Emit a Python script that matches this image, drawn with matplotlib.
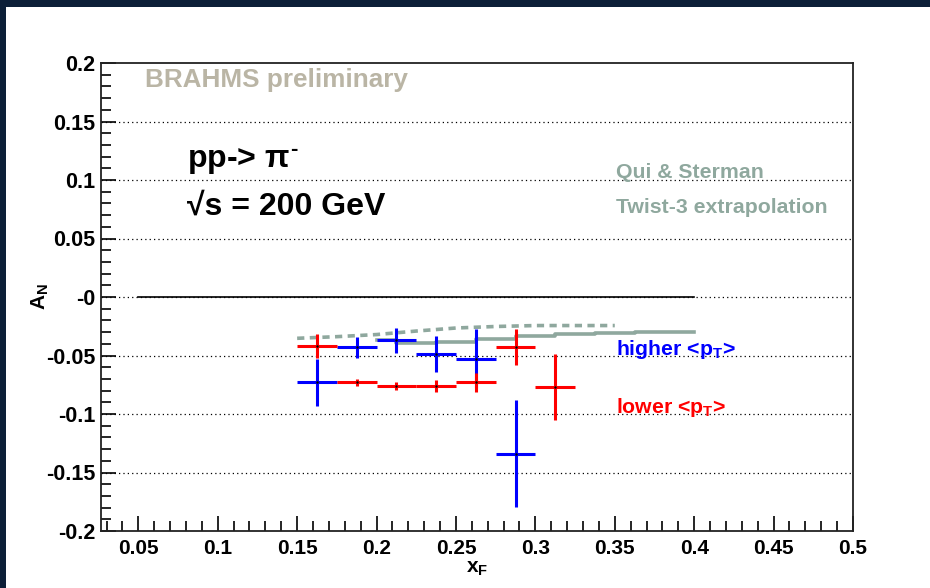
import numpy as np
import matplotlib
matplotlib.use('Agg')
import matplotlib.pyplot as plt
from matplotlib.ticker import MultipleLocator, FixedLocator, FixedFormatter
from matplotlib.patches import Rectangle

plt.rcParams['font.family'] = ['Liberation Sans', 'DejaVu Sans']
plt.rcParams['font.weight'] = 'bold'
plt.rcParams['axes.unicode_minus'] = False
plt.rcParams['mathtext.fontset'] = 'custom'
plt.rcParams['mathtext.rm'] = 'Liberation Sans:bold'
plt.rcParams['mathtext.it'] = 'Liberation Sans:bold'
plt.rcParams['mathtext.bf'] = 'Liberation Sans:bold'

# data
bin_half = 0.0125

red_x = [0.1625, 0.1875, 0.2125, 0.2375, 0.2625, 0.2875, 0.3125]
red_an = [-0.042, -0.073, -0.076, -0.076, -0.073, -0.043, -0.077]
red_err = [0.010, 0.003, 0.0033, 0.005, 0.008, 0.0154, 0.028]

blue_x = [0.1625, 0.1875, 0.2125, 0.2375, 0.2625, 0.2875]
blue_an = [-0.073, -0.043, -0.037, -0.0487, -0.0527, -0.134]
blue_err = [0.020, 0.0088, 0.0108, 0.0154, 0.025, 0.0456]

# Qui & Sterman twist-3 curves
dash_x = [0.15, 0.175, 0.2, 0.225, 0.25, 0.275, 0.3, 0.325, 0.35]
dash_an = [-0.0353, -0.0339, -0.0321, -0.0291, -0.0265, -0.0252, -0.0244, -0.0244, -0.0244]
solid_x = [0.2, 0.225, 0.25, 0.275, 0.3, 0.325, 0.35, 0.375, 0.4]
solid_an = [-0.0368, -0.0389, -0.0385, -0.0359, -0.0333, -0.0316, -0.0305, -0.0302, -0.0300]

yticks = [0.2, 0.15, 0.1, 0.05, 0.0, -0.05, -0.1, -0.15, -0.2]
ytick_labels = ['0.2', '0.15', '0.1', '0.05', '-0', '-0.05', '-0.1', '-0.15', '-0.2']
xticks = [0.05, 0.1, 0.15, 0.2, 0.25, 0.3, 0.35, 0.4, 0.45, 0.5]
xtick_labels = ['0.05', '0.1', '0.15', '0.2', '0.25', '0.3', '0.35', '0.4', '0.45', '0.5']

theory_col = '#8fa89e'

fig = plt.figure(figsize=(9.30, 5.88), dpi=100)
fig.patch.set_facecolor('#0c1f38')
fig.patches.append(Rectangle((6/930, 0), 1, 1 - 7/588, transform=fig.transFigure,
                             facecolor='white', edgecolor='none', zorder=-10))

ax = fig.add_axes([101/930, 1 - 531/588, 752/930, 468/588])
ax.set_zorder(1)
ax.set_xlim(0.0265, 0.5)
ax.set_ylim(-0.2, 0.2)

# dotted horizontal grid at the major y ticks
for yv in yticks[1:-1]:
    ax.axhline(yv, color='black', linestyle=(0, (1, 2.5)), linewidth=0.9, zorder=1)
ax.plot([0.05, 0.4], [0, 0], color='black', linewidth=1.2, zorder=2)

# theory
ax.plot(dash_x, dash_an, color=theory_col, linestyle=(0, (2, 1.5)), linewidth=2.6, zorder=3)
ax.plot(solid_x, solid_an, color=theory_col, linewidth=2.6, drawstyle='steps-mid', zorder=3)

# data
ax.errorbar(blue_x, blue_an, xerr=bin_half, yerr=blue_err, fmt='none',
            ecolor='#0000ff', elinewidth=2.2, capsize=0, zorder=4)
ax.errorbar(red_x, red_an, xerr=bin_half, yerr=red_err, fmt='none',
            ecolor='#ff0000', elinewidth=2.2, capsize=0, zorder=5)
ax.plot(blue_x + red_x, blue_an + red_an, linestyle='none', marker='.', markersize=1.5,
        color='black', zorder=6)

# axes ticks, ROOT style
ax.yaxis.set_major_locator(FixedLocator(yticks))
ax.yaxis.set_major_formatter(FixedFormatter(ytick_labels))
ax.yaxis.set_minor_locator(MultipleLocator(0.01))
ax.xaxis.set_major_locator(FixedLocator(xticks))
ax.xaxis.set_major_formatter(FixedFormatter(xtick_labels))
ax.xaxis.set_minor_locator(MultipleLocator(0.01))
ax.tick_params(which='both', direction='in', top=False, right=False, width=1.2)
ax.tick_params(which='major', length=11)
ax.tick_params(which='minor', length=7)
ax.tick_params(axis='y', labelsize=15.5, pad=4)
ax.tick_params(axis='x', labelsize=15, pad=6)
for lab in ax.get_xticklabels() + ax.get_yticklabels():
    lab.set_fontweight('bold')
for sp in ax.spines.values():
    sp.set_linewidth(1.3)
    sp.set_color('#222222')

ax.set_xlabel(r'x$_\mathrm{F}$', fontsize=15, fontweight='bold')
ax.xaxis.set_label_coords(0.5, -0.06)
ax.set_ylabel(r'A$_\mathrm{N}$', fontsize=15, fontweight='bold')
ax.yaxis.set_label_coords(-0.066, 0.5)

# annotations
ax.text(0.0545, 0.1795, 'BRAHMS preliminary', color='#bab5a5', fontsize=18.8,
        fontweight='bold', va='baseline', ha='left')
ax.text(0.0805, 0.111, r'pp-> $\pi^{\text{-}}$', color='black', fontsize=23,
        fontweight='bold', va='baseline', ha='left')
ax.text(0.0805, 0.0701, '\u221as = 200 GeV', color='black', fontsize=23,
        fontweight='bold', va='baseline', ha='left')
ax.text(0.3507, 0.1017, 'Qui & Sterman', color=theory_col, fontsize=15.3,
        fontweight='bold', va='baseline', ha='left')
ax.text(0.3507, 0.0715, 'Twist-3 extrapolation', color=theory_col, fontsize=15.3,
        fontweight='bold', va='baseline', ha='left')
ax.text(0.3507, -0.0496, r'higher <p$_\mathrm{T}$>', color='#0000ff', fontsize=15.3,
        fontweight='bold', va='baseline', ha='left')
ax.text(0.3507, -0.0994, r'lower <p$_\mathrm{T}$>', color='#ff0000', fontsize=15.3,
        fontweight='bold', va='baseline', ha='left')

fig.savefig('out.png', dpi=100, facecolor=fig.get_facecolor())
